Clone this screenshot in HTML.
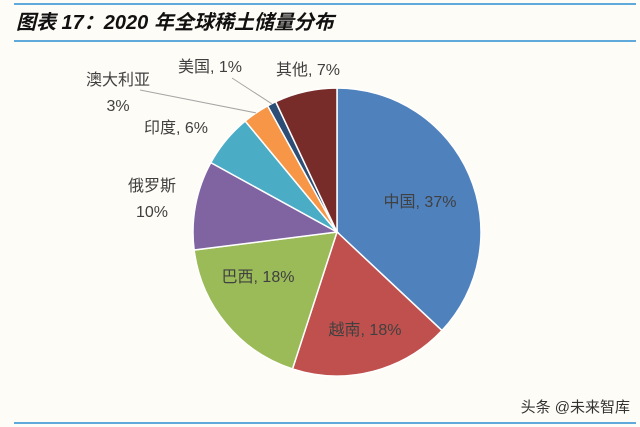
<!DOCTYPE html>
<html><head><meta charset="utf-8"><style>
html,body{margin:0;padding:0;background:#fefcf6;}
svg{display:block;font-family:"Liberation Sans","Noto Sans CJK SC",sans-serif;}
</style></head><body>
<svg id="c" width="640" height="427">
<rect width="640" height="427" fill="#fefcf6"/>
<line x1="14" y1="4" x2="636" y2="4" stroke="#2a8fd0" stroke-width="1.5"/>
<line x1="14" y1="41" x2="636" y2="41" stroke="#2a8fd0" stroke-width="1.5"/>
<line x1="14" y1="423" x2="636" y2="423" stroke="#2a8fd0" stroke-width="1.5"/>
<text x="16" y="29" font-size="20" font-weight="bold" font-style="italic" fill="#111">图表 17：2020 年全球稀土储量分布</text>
<text x="630" y="412" font-size="15" fill="#333" text-anchor="end">头条 @未来智库</text>
<g id="slices"></g>
<g id="labels"></g>
</svg>
<script>
const categories=["中国","越南","巴西","俄罗斯","印度","澳大利亚","美国","其他"];
const values=[37,18,18,10,6,3,1,7];
const colors=["#4f81bd","#c0504d","#9bbb59","#8064a2","#4bacc6","#f79646","#2c4d75","#772c2a"];
const cx=337,cy=232,r=144;
const ns="http://www.w3.org/2000/svg";
const total=values.reduce((a,b)=>a+b,0);
const g=document.getElementById('slices'),lg=document.getElementById('labels');
let a0=0;
const mids=[];
values.forEach((v,i)=>{
  const a1=a0+v/total*2*Math.PI;
  const p=a=>[cx+r*Math.sin(a),cy-r*Math.cos(a)];
  const [x0,y0]=p(a0),[x1,y1]=p(a1);
  const path=document.createElementNS(ns,'path');
  path.setAttribute('d',`M${cx},${cy}L${x0},${y0}A${r},${r} 0 ${a1-a0>Math.PI?1:0} 1 ${x1},${y1}Z`);
  path.setAttribute('fill',colors[i]);
  path.setAttribute('stroke','#fff');
  path.setAttribute('stroke-width','1.5');
  
  
  g.appendChild(path);
  mids.push((a0+a1)/2);
  a0=a1;
});
const lab=[
 {x:420,y:207,lines:[categories[0]+", "+values[0]+"%"]},
 {x:365,y:335,lines:[categories[1]+", "+values[1]+"%"]},
 {x:258,y:282,lines:[categories[2]+", "+values[2]+"%"]},
 {x:152,y:191,lines:[categories[3],values[3]+"%"]},
 {x:176,y:133,lines:[categories[4]+", "+values[4]+"%"]},
 {x:118,y:85,lines:[categories[5],values[5]+"%"]},
 {x:210,y:72,lines:[categories[6]+", "+values[6]+"%"]},
 {x:308,y:75,lines:[categories[7]+", "+values[7]+"%"]}
];
lab.forEach((L,i)=>{
  L.lines.forEach((s,j)=>{
    const t=document.createElementNS(ns,'text');
    t.setAttribute('x',L.x);t.setAttribute('y',L.y+j*26);
    t.setAttribute('text-anchor','middle');t.setAttribute('font-size','16');
    t.setAttribute('fill','#404040');
    
    
    t.textContent=s;lg.appendChild(t);
  });
});
[[5,140,90],[6,232,78]].forEach(([i,lx,ly])=>{
  const m=mids[i];
  const l=document.createElementNS(ns,'line');
  l.setAttribute('x1',cx+r*Math.sin(m));l.setAttribute('y1',cy-r*Math.cos(m));
  l.setAttribute('x2',lx);l.setAttribute('y2',ly);
  l.setAttribute('stroke','#a6a6a6');l.setAttribute('stroke-width','1');
  
  
  lg.appendChild(l);
});
</script>
</body></html>
